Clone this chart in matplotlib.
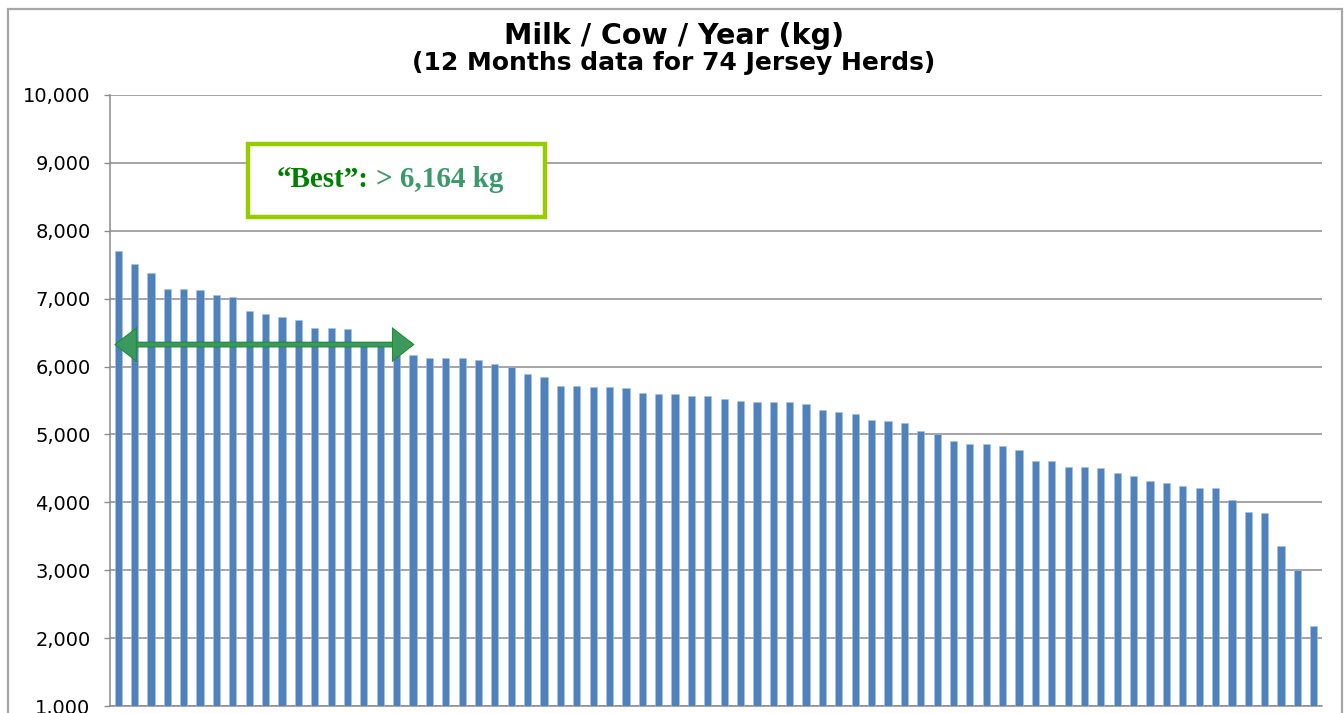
import numpy as np
import matplotlib
matplotlib.use("Agg")
import matplotlib.pyplot as plt
import matplotlib.patheffects as pe
from matplotlib.patches import Rectangle
from matplotlib.ticker import FuncFormatter

# milk per cow per year (kg), 74 Jersey herds, sorted high to low
milk_kg = [7707, 7509, 7381, 7141, 7141, 7127, 7049, 7019, 6813, 6773,
           6729, 6685, 6567, 6567, 6552, 6330, 6320, 6214, 6170, 6120,
           6120, 6120, 6091, 6032, 5993, 5886, 5851, 5709, 5709, 5694,
           5694, 5679, 5610, 5595, 5595, 5560, 5560, 5517, 5488, 5473,
           5473, 5473, 5452, 5359, 5325, 5296, 5212, 5197, 5163, 5054,
           5000, 4907, 4863, 4863, 4829, 4766, 4604, 4604, 4525, 4525,
           4510, 4432, 4385, 4314, 4290, 4240, 4210, 4210, 4030, 3857,
           3842, 3361, 3003, 2183]
y_ticks = [1000, 2000, 3000, 4000, 5000, 6000, 7000, 8000, 9000, 10000]
best_kg = 6164
best_herds = 19  # herds above the "best" line
title = "Milk / Cow / Year (kg)"
subtitle = "(12 Months data for 74 Jersey Herds)"

W, H = 1344, 713
fig = plt.figure(figsize=(W / 100, H / 100), dpi=100)
ax = fig.add_axes([110 / W, 7 / H, 1212 / W, 611 / H])

x = np.arange(len(milk_kg))
ax.bar(x, milk_kg, width=0.44, color="#4F81BD", edgecolor="#A9C1E3",
       linewidth=0.4, zorder=3)

ax.set_xlim(-0.5, len(milk_kg) - 0.5)
ax.set_ylim(y_ticks[0], y_ticks[-1])
ax.set_yticks(y_ticks)
ax.yaxis.set_major_formatter(FuncFormatter(lambda v, p: f"{int(v):,}"))
ax.set_xticks([])
ax.grid(axis="y", color="#8C8C8C", linewidth=1.1, zorder=0)
ax.tick_params(axis="y", direction="out", length=4.5, width=1.0,
               color="#8C8C8C", pad=9.5, labelsize=14)
for lbl in ax.get_yticklabels():
    lbl.set_family("DejaVu Sans")
for s in ["top", "right"]:
    ax.spines[s].set_visible(False)
ax.spines["left"].set_color("#8C8C8C")
ax.spines["bottom"].set_color("#8C8C8C")
ax.spines["left"].set_linewidth(1.1)
ax.spines["bottom"].set_linewidth(1.1)

# titles
fig.text(674 / W, 1 - 36 / H, title, ha="center", va="center",
         fontsize=20.5, fontweight="bold", family="DejaVu Sans")
fig.text(674 / W, 1 - 63 / H, subtitle, ha="center", va="center",
         fontsize=18, fontweight="bold", family="DejaVu Sans")

# chart border
fig.patches.append(Rectangle((8 / W, -0.05), 1334 / W, 1.05 - 9 / H,
                             transform=fig.transFigure, fill=False,
                             edgecolor="#A6A6A6", linewidth=1.6))

# "best" double arrow
ax.annotate("", xy=(best_herds - 1, 6324), xytext=(-0.15, 6324),
            arrowprops=dict(arrowstyle="<|-|>,head_length=0.9,head_width=0.7",
                            mutation_scale=12, lw=2.8, color="#3A9A5E",
                            shrinkA=0, shrinkB=0, joinstyle="miter",
                            path_effects=[pe.withStroke(linewidth=4.2, foreground="#1F8A2E",
                                                        joinstyle="miter")]),
            zorder=5)

# label box
ax.add_patch(Rectangle((0.1135, 0.800), 0.2455, 0.119, transform=ax.transAxes,
                       fill=True, facecolor="white", edgecolor="#99CC00",
                       linewidth=3.2, zorder=6))
t1 = ax.text(0.1375, 0.861, "\u201cBest\u201d:", transform=ax.transAxes,
             ha="left", va="center", fontsize=21, fontweight="bold",
             family="Liberation Serif", color="#008000", zorder=7)
ax.annotate(f"> {best_kg:,} kg", xy=(1, 0), xycoords=t1, xytext=(5, 0),
            textcoords="offset points", ha="left", va="bottom", fontsize=21,
            fontweight="bold", family="Liberation Serif", color="#3A9A6A",
            zorder=7)

fig.savefig("out.png", dpi=100)
